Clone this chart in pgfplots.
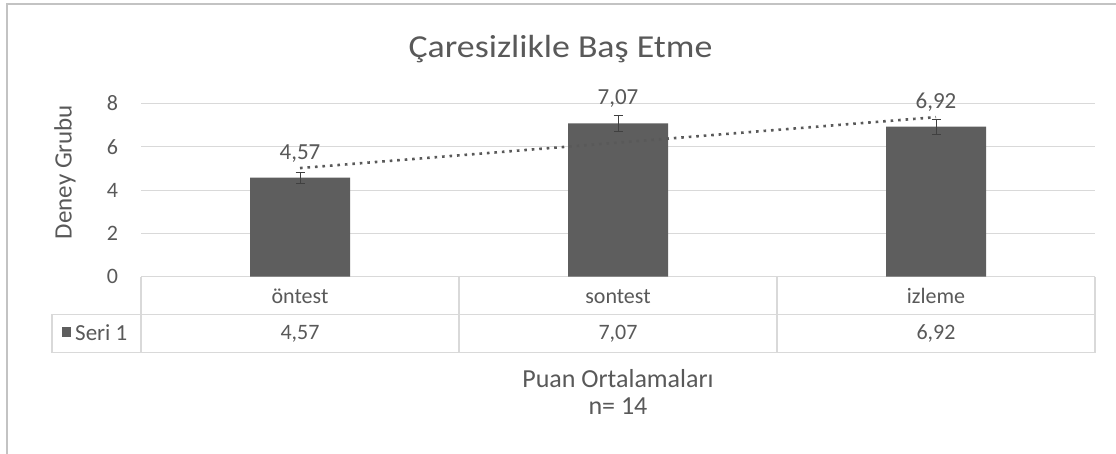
\documentclass[border=0pt]{standalone}
\usepackage{fontspec}
\setmainfont{Carlito}
\newfontfamily\titlefont[FakeStretch=1.12]{Carlito}
\usepackage{pgfplots}
\usepackage{pgfplotstable}
\pgfplotsset{compat=1.18}
\definecolor{txt}{HTML}{595959}
\definecolor{barc}{HTML}{5E5E5E}
\definecolor{gridc}{HTML}{D9D9D9}
\definecolor{errc}{HTML}{404040}
\pgfplotstableread{
x y e
0 4.57 0.25
1 7.07 0.36
2 6.92 0.35
}\data
\begin{document}
\begin{tikzpicture}[x=1pt,y=1pt]
\useasboundingbox (0,0) rectangle (1116,-454);
\fill[white] (0,0) rectangle (1116,-454);
\draw[gridc!90!black, line width=2.5pt] (7,-454) -- (7,-4) -- (1116,-4);
% title and axis titles
\node[anchor=base, text=txt, inner sep=0, font=\titlefont\fontsize{32}{36}\selectfont] at (560.5,-57.3) {Çaresizlikle Baş Etme};
\node[anchor=base, rotate=90, text=txt, inner sep=0, font=\fontsize{25}{30}\selectfont] at (71.7,-172) {Deney Grubu};
\node[anchor=base, text=txt, inner sep=0, font=\fontsize{26}{30}\selectfont] at (618,-387.3) {Puan Ortalamaları};
\node[anchor=base, text=txt, inner sep=0, font=\fontsize{26}{30}\selectfont] at (618,-414.3) {n= 14};
% data table frame
\begin{scope}[gridc, line width=1.5pt]
\draw (52,-314.3) -- (1095,-314.3);
\draw (52,-352.7) -- (1095,-352.7);
\draw (52,-314.3) -- (52,-352.7);
\draw (141,-276.7) -- (1095,-276.7);
\foreach \xx in {141,459,777,1095} \draw (\xx,-276.7) -- (\xx,-352.7);
\end{scope}
\fill[barc] (61.5,-327) rectangle (71,-337);
\node[anchor=base west, text=txt, inner sep=0, font=\fontsize{23}{26}\selectfont] at (75,-340) {Seri 1};
\begin{axis}[
  at={(141pt,-276.7pt)}, anchor=south west,
  scale only axis, width=954pt, height=173.4pt,
  xmin=-0.5, xmax=2.5, ymin=0, ymax=8,
  ytick={0,2,4,6,8},
  xtick={0,1,2},
  xticklabels={öntest,sontest,izleme},
  axis line style={draw=none},
  ymajorgrids, grid style={gridc, line width=1pt},
  major tick length=0pt,
  clip=false,
  /pgf/number format/assume math mode=true,
  tick label style={text=txt, font=\fontsize{22}{26}\selectfont},
  yticklabel style={inner sep=0pt, xshift=-22.7pt},
  xticklabel style={inner sep=0pt, anchor=base, yshift=-26.3pt},
]
\addplot[ybar, bar width=100pt, fill=barc, draw=none,
  point meta=y,
  nodes near coords={\pgfmathprintnumber[fixed,fixed zerofill,precision=2,use comma]{\pgfplotspointmeta}},
  every node near coord/.append style={anchor=base, yshift=18.5pt, text=txt, inner sep=0pt, font=\fontsize{23}{27}\selectfont},
  error bars/.cd, y dir=both, y explicit,
  error bar style={errc, line width=1pt},
  error mark options={rotate=90, mark size=4.5pt, errc, line width=1pt}]
  table[x=x, y=y, y error=e] {\data};
\addplot[txt, line width=2.6pt, dash pattern=on 2.6pt off 4.9pt, mark=none]
  table[x=x, y={create col/linear regression={y=y}}] {\data};
\node[anchor=base, text=txt, inner sep=0, font=\fontsize{22}{26}\selectfont, yshift=-62.8pt] at (axis cs:0,0) {4,57};
\node[anchor=base, text=txt, inner sep=0, font=\fontsize{22}{26}\selectfont, yshift=-62.8pt] at (axis cs:1,0) {7,07};
\node[anchor=base, text=txt, inner sep=0, font=\fontsize{22}{26}\selectfont, yshift=-62.8pt] at (axis cs:2,0) {6,92};
\end{axis}
\end{tikzpicture}
\end{document}
